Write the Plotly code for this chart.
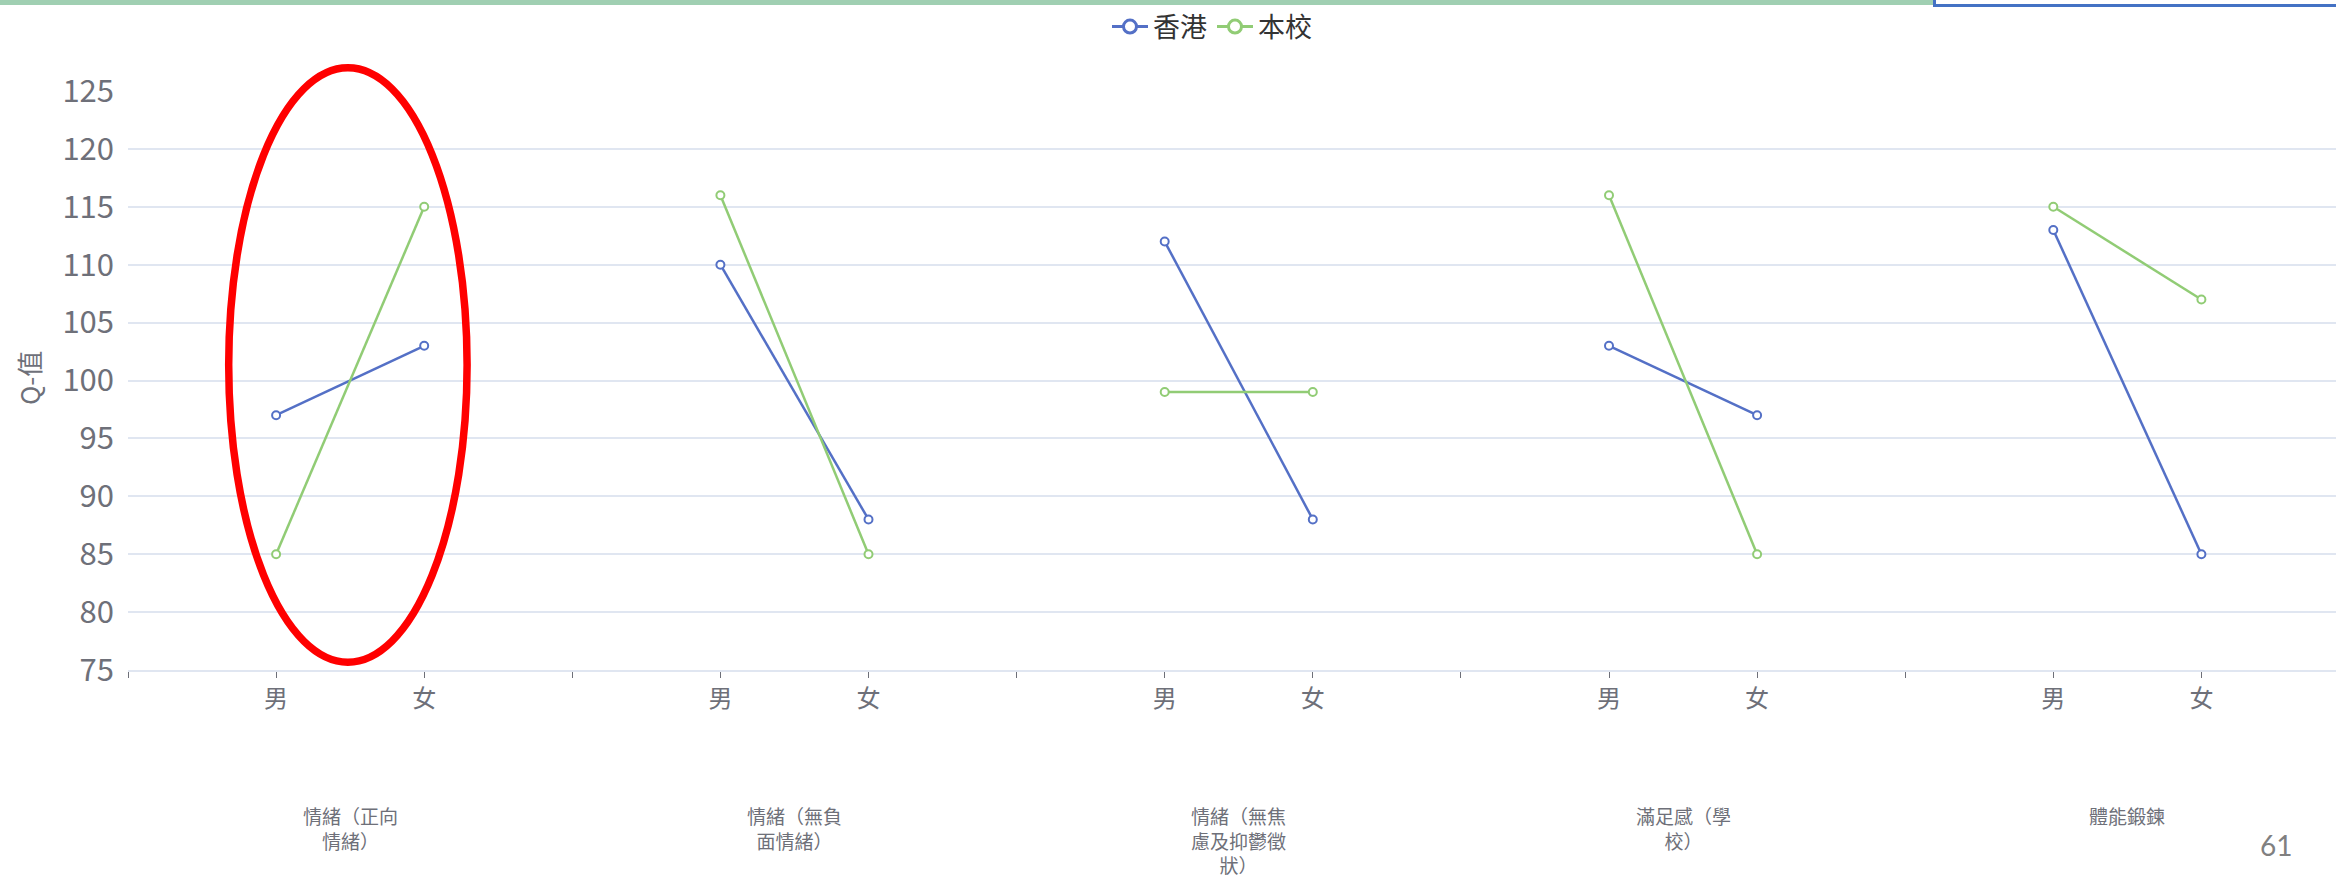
import plotly.graph_objects as go

# ---------------- data ----------------
groups = ["情緒（正向<br>情緒）", "情緒（無負<br>面情緒）", "情緒（無焦<br>慮及抑鬱徵<br>狀）",
          "滿足感（學<br>校）", "體能鍛鍊"]
sexes = ["男", "女"]
series_names = ["香港", "本校"]
hk_male = [97, 110, 112, 103, 113]
hk_female = [103, 88, 88, 97, 85]
school_male = [85, 116, 99, 116, 115]
school_female = [115, 85, 99, 85, 107]
y_ticks = [75, 80, 85, 90, 95, 100, 105, 110, 115, 120, 125]
page_number = "61"

colors = ["#5470c6", "#91cc75"]
FONT = "Noto Sans CJK TC, Noto Sans, sans-serif"

W, H = 2336, 880
ML, MR, MT, MB = 128, 0, 91, 210
PW = W - ML - MR
PH = H - MT - MB


def px_to_paper_x(px):
    return (px - ML) / PW


def px_to_paper_y(py):
    return (H - MB - py) / PH


def build_xy(male, female):
    xs, ys = [], []
    for i, (m, f) in enumerate(zip(male, female)):
        xs += [3 * i + 1, 3 * i + 2, None]
        ys += [m, f, None]
    return xs, ys


fig = go.Figure()
for name, col, (m, f) in zip(series_names, colors,
                             [(hk_male, hk_female), (school_male, school_female)]):
    xs, ys = build_xy(m, f)
    fig.add_trace(go.Scatter(
        x=xs, y=ys, name=name, mode="lines+markers", connectgaps=False,
        showlegend=False, legendgroup=name,
        line=dict(color=col, width=2.5),
        marker=dict(symbol="circle", size=8, color="white",
                    line=dict(color=col, width=2)),
    ))
# legend entries (larger symbol, like the reference legend)
for name, col in zip(series_names, colors):
    fig.add_trace(go.Scatter(
        x=[None], y=[None], name=name, mode="lines+markers", legendgroup=name,
        line=dict(color=col, width=3),
        marker=dict(symbol="circle", size=13, color="white",
                    line=dict(color=col, width=3)),
    ))

# x ticks: group dividers (no label) + sex labels
tickvals, ticktext = [], []
for i in range(len(groups)):
    tickvals += [3 * i, 3 * i + 1, 3 * i + 2]
    ticktext += ["", sexes[0], sexes[1]]
tickvals.append(3 * len(groups))
ticktext.append("")

unit_px = 148.1
fig.update_xaxes(
    range=[0, PW / unit_px], tickmode="array", tickvals=tickvals, ticktext=ticktext,
    showgrid=False, zeroline=False, showline=True, linecolor="#e0e6f1", linewidth=2,
    ticks="outside", ticklen=6, tickcolor="#6e7079", tickwidth=1,
    tickfont=dict(family=FONT, size=24, color="#6e7079"),
)
fig.update_yaxes(
    range=[75, 125], tickmode="array", tickvals=y_ticks,
    showgrid=True, gridcolor="#e0e6f1", gridwidth=1.5, zeroline=False, showline=False,
    ticks="", ticklabelstandoff=13,
    tickfont=dict(family=FONT, size=31, color="#6e7079"),
)

annotations = []
for i, g in enumerate(groups):
    annotations.append(dict(
        x=3 * i + 1.5, xref="x", y=px_to_paper_y(801), yref="paper",
        text=g, showarrow=False, xanchor="center", yanchor="top", align="center",
        font=dict(family=FONT, size=19, color="#6e7079"), borderpad=0,
    ))
annotations.append(dict(
    x=px_to_paper_x(28), xref="paper", y=px_to_paper_y(378), yref="paper",
    text="Q-值", textangle=-90, showarrow=False, xanchor="center", yanchor="middle",
    font=dict(family=FONT, size=26, color="#6e7079"),
))
annotations.append(dict(
    x=px_to_paper_x(2276), xref="paper", y=px_to_paper_y(845), yref="paper",
    text=page_number, showarrow=False, xanchor="center", yanchor="middle",
    font=dict(family="Lato, Open Sans, sans-serif", size=28, color="#808080"),
))

shapes = [
    # top green bar
    dict(type="rect", xref="paper", yref="paper",
         x0=px_to_paper_x(0), x1=px_to_paper_x(1933),
         y0=px_to_paper_y(5), y1=px_to_paper_y(0),
         fillcolor="#a0cfb2", line=dict(width=0), layer="above"),
    # blue frame top-right
    dict(type="line", xref="paper", yref="paper",
         x0=px_to_paper_x(1934.5), x1=px_to_paper_x(1934.5),
         y0=px_to_paper_y(7), y1=px_to_paper_y(0),
         line=dict(color="#4472c4", width=3)),
    dict(type="line", xref="paper", yref="paper",
         x0=px_to_paper_x(1933), x1=px_to_paper_x(2336),
         y0=px_to_paper_y(5.5), y1=px_to_paper_y(5.5),
         line=dict(color="#4472c4", width=3)),
    # red ellipse highlight
    dict(type="circle", xref="paper", yref="paper",
         x0=px_to_paper_x(228.7), x1=px_to_paper_x(467.1),
         y0=px_to_paper_y(662.2), y1=px_to_paper_y(67.8),
         line=dict(color="#ff0000", width=7.5), layer="above"),
]

fig.update_layout(
    width=W, height=H,
    margin=dict(l=ML, r=MR, t=MT, b=MB, autoexpand=False),
    paper_bgcolor="white", plot_bgcolor="white",
    showlegend=True,
    legend=dict(orientation="h", x=px_to_paper_x(1212), xanchor="center",
                y=px_to_paper_y(27), yanchor="middle",
                font=dict(family=FONT, size=27, color="#333333"),
                itemwidth=36, bgcolor="rgba(0,0,0,0)", tracegroupgap=0),
    annotations=annotations, shapes=shapes,
)

fig.write_html("out.html", config={"displayModeBar": False},
               post_script="document.body.style.margin='0';document.body.style.overflow='hidden';")
